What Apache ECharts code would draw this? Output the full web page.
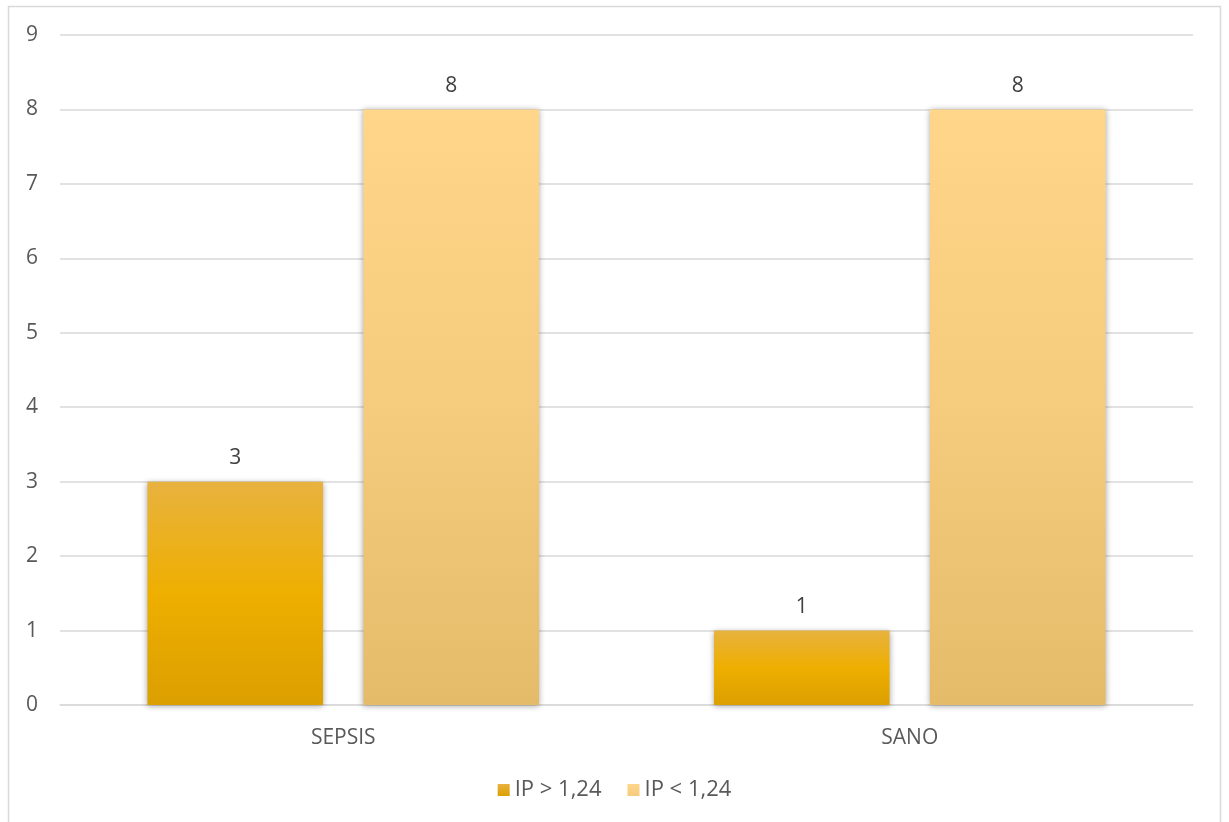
<!DOCTYPE html>
<html>
<head>
<meta charset="utf-8">
<script src="https://cdn.jsdelivr.net/npm/echarts@6/dist/echarts.min.js"></script>
<style>
  html, body { margin: 0; padding: 0; background: #ffffff; }
  #chart { width: 1229px; height: 822px; }
</style>
</head>
<body>
<div id="chart"></div>
<script>
// Groups on the horizontal axis
const categories = ['SEPSIS', 'SANO'];
// Counts per group for each IP threshold
const seriesNames = ['IP > 1,24', 'IP < 1,24'];
const ipAbove = [3, 1];
const ipBelow = [8, 8];
// Value axis range
const yMin = 0;
const yMax = 9;
const yStep = 1;

const FONT = '"Open Sans", "Noto Sans", sans-serif';
const FONT_SIZE = 21;

const goldGradient = new echarts.graphic.LinearGradient(0, 0, 0, 1, [
  { offset: 0, color: '#E8B23F' },
  { offset: 0.5, color: '#EEAF00' },
  { offset: 1, color: '#DB9F00' }
]);
const paleGradient = new echarts.graphic.LinearGradient(0, 0, 0, 1, [
  { offset: 0, color: '#FFD68A' },
  { offset: 0.5, color: '#F5CB7D' },
  { offset: 1, color: '#E4BC69' }
]);

const legendGold = new echarts.graphic.LinearGradient(0, 0, 0, 1, [
  { offset: 0, color: '#E8B23F' },
  { offset: 1, color: '#DB9F00' }
]);
const legendPale = new echarts.graphic.LinearGradient(0, 0, 0, 1, [
  { offset: 0, color: '#FFD68A' },
  { offset: 1, color: '#F5CB7D' }
]);

const barShadow = {
  shadowBlur: 6,
  shadowColor: 'rgba(0,0,0,0.35)',
  shadowOffsetX: 0,
  shadowOffsetY: 1
};

const valueLabel = {
  show: true,
  position: 'top',
  distance: 13,
  color: '#404040',
  fontSize: FONT_SIZE,
  fontFamily: FONT
};

const chart = echarts.init(document.getElementById('chart'), null, { renderer: 'canvas' });

chart.setOption({
  backgroundColor: '#ffffff',
  animation: false,
  graphic: [{
    type: 'rect',
    shape: { x: 8.5, y: 6.5, width: 1212, height: 830 },
    style: { fill: 'none', stroke: '#D9D9D9', lineWidth: 1.5 },
    silent: true,
    z: -1
  }],
  grid: {
    left: 60,
    right: 36,
    top: 35,
    bottom: 117,
    containLabel: false
  },
  legend: {
    bottom: 16,
    left: 'center',
    itemWidth: 12,
    itemHeight: 12,
    itemGap: 26,
    itemTextGap: 5,
    icon: 'rect',
    textStyle: { color: '#595959', fontSize: 22, fontFamily: FONT },
    data: [
      { name: seriesNames[0], itemStyle: { color: legendGold, shadowBlur: 0 } },
      { name: seriesNames[1], itemStyle: { color: legendPale, shadowBlur: 0 } }
    ]
  },
  xAxis: {
    type: 'category',
    data: categories,
    axisLine: { show: true, lineStyle: { color: '#D9D9D9', width: 1.5 } },
    axisTick: { show: false },
    axisLabel: { color: '#595959', fontSize: FONT_SIZE, fontFamily: FONT, margin: 23 }
  },
  yAxis: {
    type: 'value',
    min: yMin,
    max: yMax,
    interval: yStep,
    axisLine: { show: false },
    axisTick: { show: false },
    axisLabel: { color: '#595959', fontSize: FONT_SIZE, fontFamily: FONT, margin: 22, align: 'right' },
    splitLine: { lineStyle: { color: '#D9D9D9', width: 1.5 } }
  },
  series: [
    {
      name: seriesNames[0],
      type: 'bar',
      data: ipAbove,
      barWidth: '31%',
      barGap: '23%',
      itemStyle: Object.assign({ color: goldGradient }, barShadow),
      label: valueLabel
    },
    {
      name: seriesNames[1],
      type: 'bar',
      data: ipBelow,
      barWidth: '31%',
      barGap: '23%',
      itemStyle: Object.assign({ color: paleGradient }, barShadow),
      label: valueLabel
    }
  ]
});
</script>
</body>
</html>
